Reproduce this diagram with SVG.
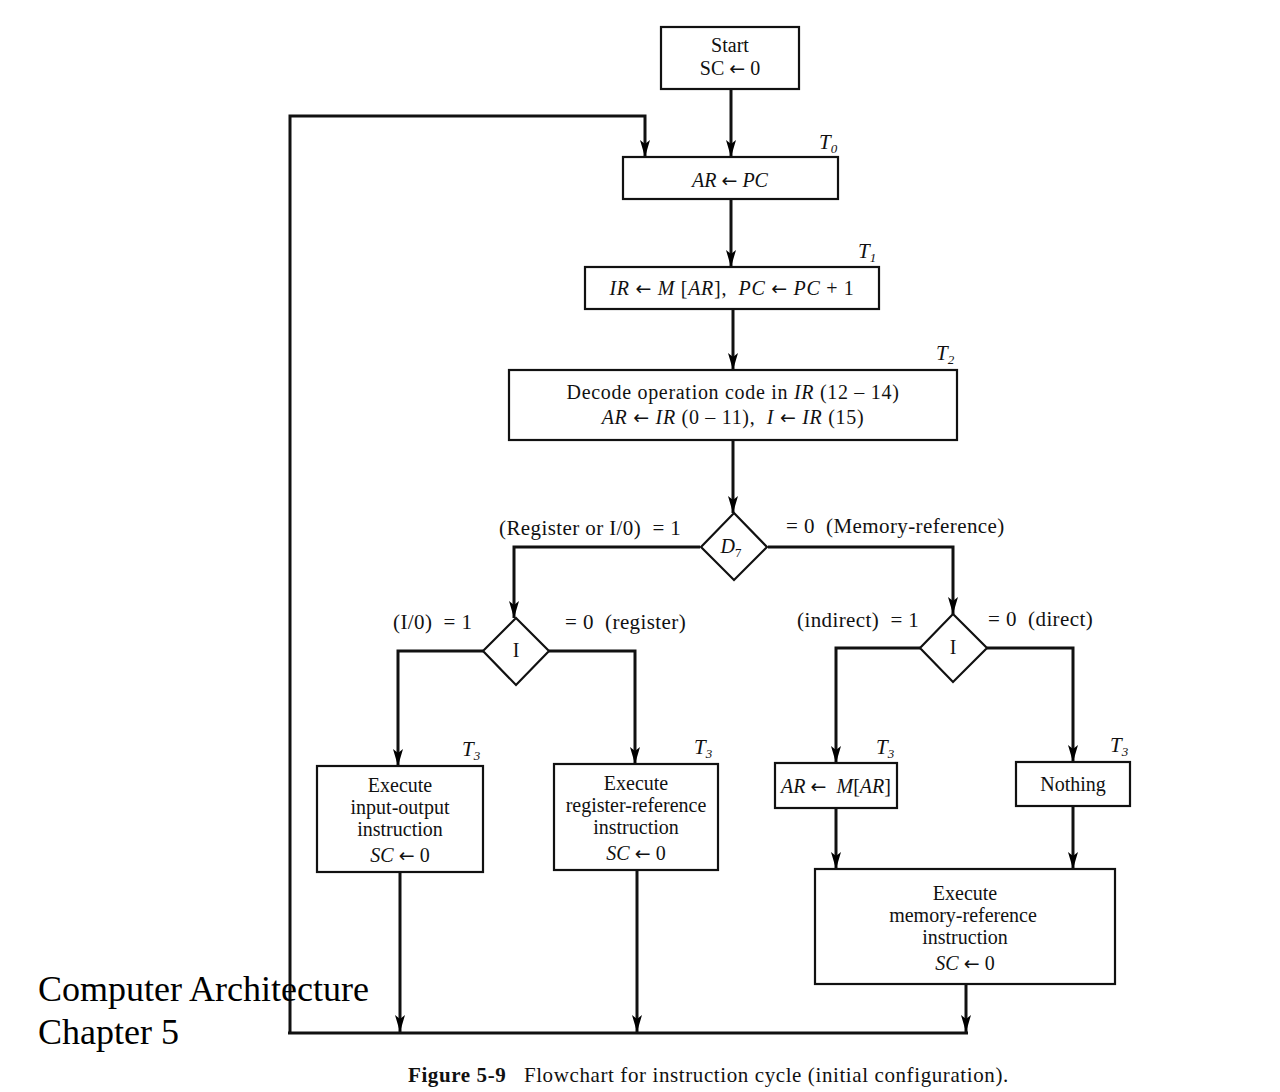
<svg xmlns="http://www.w3.org/2000/svg" width="1280" height="1092" viewBox="0 0 1280 1092" xml:space="preserve">
<defs>
<marker id="ah" markerUnits="userSpaceOnUse" markerWidth="18" markerHeight="12" viewBox="0 0 18 12" refX="17" refY="6" orient="auto">
<path d="M0,1 L17,6 L0,11 L4,6 Z" fill="#000"/>
</marker>
</defs>
<style>
text{font-family:"Liberation Serif","Times New Roman",serif;fill:#111;white-space:pre;}
.t{font-size:20px;text-anchor:middle;}
.w{letter-spacing:0.7px;}
.l{font-size:21px;letter-spacing:0.4px;}
.i{font-style:italic;}
.a{font-family:"DejaVu Sans",sans-serif;font-size:19px;font-style:normal;}
.box{fill:#fff;stroke:#111;stroke-width:2.2;}
.c{fill:none;stroke:#111;stroke-width:3;}
.ca{fill:none;stroke:#111;stroke-width:3;marker-end:url(#ah);}
.tl{font-size:21px;font-style:italic;}
</style>
<rect width="1280" height="1092" fill="#fff"/>

<g id="connectors">
<path class="ca" d="M731,89 V157"/>
<path class="ca" d="M290,1033 V116 H645 V157"/>
<path class="ca" d="M731,199 V267"/>
<path class="ca" d="M733,309 V370"/>
<path class="ca" d="M733,440 V513"/>
<path class="ca" d="M700,547 H514 V618"/>
<path class="ca" d="M768,547 H953 V614"/>
<path class="ca" d="M483,651 H398 V766"/>
<path class="ca" d="M549,651 H635 V764"/>
<path class="ca" d="M920,648 H836 V763"/>
<path class="ca" d="M987,648 H1073 V762"/>
<path class="ca" d="M836,808 V869"/>
<path class="ca" d="M1073,806 V869"/>
<path class="ca" d="M400,872 V1032"/>
<path class="ca" d="M637,870 V1032"/>
<path class="ca" d="M966,984 V1032"/>
<path class="c" d="M288,1033 H968"/>
</g>

<g id="start">
<rect class="box" x="661" y="27" width="138" height="62"/>
<text class="t" x="730" y="52">Start</text>
<text class="t" x="730" y="75">SC <tspan class="a">←</tspan> 0</text>
</g>

<g id="t0">
<rect class="box" x="623" y="157" width="215" height="42"/>
<text class="t" x="730" y="187"><tspan class="i">AR</tspan> <tspan class="a">←</tspan> <tspan class="i">PC</tspan></text>
<text class="tl" x="819" y="149">T<tspan font-size="13" dy="4">0</tspan></text>
</g>

<g id="t1">
<rect class="box" x="585" y="267" width="294" height="42"/>
<text class="t w" x="732" y="295"><tspan class="i">IR</tspan> <tspan class="a">←</tspan> <tspan class="i">M</tspan> [<tspan class="i">AR</tspan>],  <tspan class="i">PC</tspan> <tspan class="a">←</tspan> <tspan class="i">PC</tspan> + 1</text>
<text class="tl" x="858" y="258">T<tspan font-size="13" dy="4">1</tspan></text>
</g>

<g id="t2">
<rect class="box" x="509" y="370" width="448" height="70"/>
<text class="t w" x="733" y="399">Decode operation code in <tspan class="i">IR</tspan> (12 – 14)</text>
<text class="t w" x="733" y="424"><tspan class="i">AR</tspan> <tspan class="a">←</tspan> <tspan class="i">IR</tspan> (0 – 11),  <tspan class="i">I</tspan> <tspan class="a">←</tspan> <tspan class="i">IR</tspan> (15)</text>
<text class="tl" x="936" y="360">T<tspan font-size="13" dy="4">2</tspan></text>
</g>

<g id="d7">
<path class="box" d="M734,513 L767,547 L734,580 L701,547 Z"/>
<text class="t" x="731" y="553"><tspan class="i">D</tspan><tspan font-size="13" dy="4">7</tspan></text>
<text class="l" x="499" y="535">(Register or I/0)  = 1</text>
<text class="l" x="786" y="533">= 0  (Memory-reference)</text>
</g>

<g id="i-left">
<path class="box" d="M516,618 L549,651 L516,685 L483,651 Z"/>
<text class="t" x="516" y="657">I</text>
<text class="l" x="393" y="629">(I/0)  = 1</text>
<text class="l" x="565" y="629">= 0  (register)</text>
</g>

<g id="i-right">
<path class="box" d="M953,614 L987,648 L953,682 L920,648 Z"/>
<text class="t" x="953" y="654">I</text>
<text class="l" x="797" y="627">(indirect)  = 1</text>
<text class="l" x="988" y="626">= 0  (direct)</text>
</g>

<g id="io">
<rect class="box" x="317" y="766" width="166" height="106"/>
<text class="t" x="400" y="792">Execute</text>
<text class="t" x="400" y="814">input-output</text>
<text class="t" x="400" y="836">instruction</text>
<text class="t" x="400" y="862"><tspan class="i">SC</tspan> <tspan class="a">←</tspan> 0</text>
<text class="tl" x="462" y="756">T<tspan font-size="13" dy="4">3</tspan></text>
</g>

<g id="reg">
<rect class="box" x="554" y="764" width="164" height="106"/>
<text class="t" x="636" y="790">Execute</text>
<text class="t" x="636" y="812">register-reference</text>
<text class="t" x="636" y="834">instruction</text>
<text class="t" x="636" y="860"><tspan class="i">SC</tspan> <tspan class="a">←</tspan> 0</text>
<text class="tl" x="694" y="754">T<tspan font-size="13" dy="4">3</tspan></text>
</g>

<g id="indirect">
<rect class="box" x="775" y="763" width="122" height="45"/>
<text class="t" x="836" y="793"><tspan class="i">AR</tspan> <tspan class="a">←</tspan>  <tspan class="i">M</tspan>[<tspan class="i">AR</tspan>]</text>
<text class="tl" x="876" y="754">T<tspan font-size="13" dy="4">3</tspan></text>
</g>

<g id="nothing">
<rect class="box" x="1016" y="762" width="114" height="44"/>
<text class="t" x="1073" y="791">Nothing</text>
<text class="tl" x="1110" y="752">T<tspan font-size="13" dy="4">3</tspan></text>
</g>

<g id="mem">
<rect class="box" x="815" y="869" width="300" height="115"/>
<text class="t" x="965" y="900">Execute</text>
<text class="t" x="963" y="922">memory-reference</text>
<text class="t" x="965" y="944">instruction</text>
<text class="t" x="965" y="970"><tspan class="i">SC</tspan> <tspan class="a">←</tspan> 0</text>
</g>

<text x="38" y="1001" font-size="36" style="fill:#000">Computer Architecture</text>
<text x="38" y="1044" font-size="36" style="fill:#000">Chapter 5</text>
<text x="408" y="1082" font-size="21" letter-spacing="0.6"><tspan font-weight="bold">Figure 5-9</tspan>   Flowchart for instruction cycle (initial configuration).</text>
</svg>
